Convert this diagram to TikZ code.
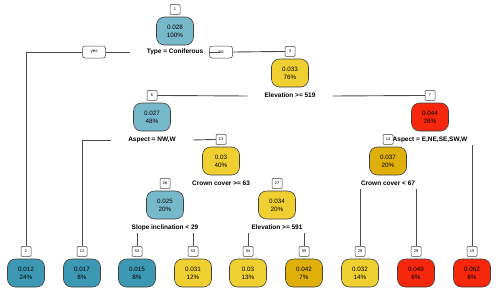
\documentclass[tikz,border=0pt]{standalone}
\usepackage{fontspec}
\setmainfont{Liberation Sans}
\usetikzlibrary{positioning}
\definecolor{treeSky}{HTML}{78B8CB}
\definecolor{treeTeal}{HTML}{3C98B3}
\definecolor{treeSun}{HTML}{F0CF30}
\definecolor{treeGold}{HTML}{E0B00A}
\definecolor{treeRed}{HTML}{F5280E}
\definecolor{edgeGray}{HTML}{404040}
\definecolor{lineGray}{HTML}{4A4A4A}
\tikzset{
  treeNode/.style={draw=edgeGray, line width=0.6pt, rounded corners=8pt, minimum width=37pt, minimum height=28pt, inner sep=0pt, align=center, font=\fontsize{6.3}{8}\selectfont},
  nodeSky/.style={treeNode, fill=treeSky},
  nodeTeal/.style={treeNode, fill=treeTeal},
  nodeSun/.style={treeNode, fill=treeSun},
  nodeGold/.style={treeNode, fill=treeGold},
  nodeRed/.style={treeNode, fill=treeRed},
  numBox/.style={draw=edgeGray, line width=0.5pt, fill=white, rounded corners=1pt, minimum width=10pt, minimum height=10pt, inner sep=0pt, font=\fontsize{4}{4}\selectfont},
  sideBox/.style={draw=edgeGray, line width=0.5pt, fill=white, rounded corners=2.5pt, minimum width=23pt, minimum height=12pt, inner sep=0pt, font=\fontsize{4.5}{5}\selectfont},
  splitLabel/.style={inner xsep=17pt, inner ysep=2pt, text height=5pt, text depth=1.5pt, font=\bfseries\fontsize{6.5}{8}\selectfont},
  branch/.style={draw=lineGray, line width=0.9pt}
}

\begin{document}
\begin{tikzpicture}[x=1pt, y=-1pt]
  \useasboundingbox (0,0) rectangle (500,298);
  % split nodes
  \node[nodeSky] (n1) at (175,31) {0.028\\100\%};
  \node[numBox, above=2pt of n1] (b1) {1};
  \node[splitLabel] (s1) at (175,52) {Type = Coniferous};
  \node[nodeSun] (n3) at (290,73) {0.033\\76\%};
  \node[numBox, above=2pt of n3] (b3) {3};
  \node[splitLabel] (s3) at (290,96) {Elevation >= 519};
  \node[nodeSky] (n6) at (152,117) {0.027\\48\%};
  \node[numBox, above=2pt of n6] (b6) {6};
  \node[splitLabel] (s6) at (152,140) {Aspect = NW,W};
  \node[nodeRed] (n7) at (430,117) {0.044\\28\%};
  \node[numBox, above=2pt of n7] (b7) {7};
  \node[splitLabel] (s7) at (430,140) {Aspect = E,NE,SE,SW,W};
  \node[nodeSun] (n13) at (221,161) {0.03\\40\%};
  \node[numBox, above=2pt of n13] (b13) {13};
  \node[splitLabel] (s13) at (221,184) {Crown cover >= 63};
  \node[nodeGold] (n14) at (388,161) {0.037\\20\%};
  \node[numBox, above=2pt of n14] (b14) {14};
  \node[splitLabel] (s14) at (388,184) {Crown cover < 67};
  \node[nodeSky] (n26) at (165,205) {0.025\\20\%};
  \node[numBox, above=2pt of n26] (b26) {26};
  \node[splitLabel] (s26) at (165,228) {Slope inclination < 29};
  \node[nodeSun] (n27) at (277,205) {0.034\\20\%};
  \node[numBox, above=2pt of n27] (b27) {27};
  \node[splitLabel] (s27) at (277,228) {Elevation >= 591};
  % leaves
  \node[nodeTeal] (n2) at (26,273) {0.012\\24\%};
  \node[numBox, above=2pt of n2] (b2) {2};
  \node[nodeTeal] (n12) at (82,273) {0.017\\8\%};
  \node[numBox, above=2pt of n12] (b12) {12};
  \node[nodeTeal] (n52) at (137,273) {0.015\\8\%};
  \node[numBox, above=2pt of n52] (b52) {52};
  \node[nodeSun] (n53) at (193,273) {0.031\\12\%};
  \node[numBox, above=2pt of n53] (b53) {53};
  \node[nodeSun] (n54) at (248,273) {0.03\\13\%};
  \node[numBox, above=2pt of n54] (b54) {54};
  \node[nodeGold] (n55) at (304,273) {0.042\\7\%};
  \node[numBox, above=2pt of n55] (b55) {55};
  \node[nodeSun] (n28) at (360,273) {0.032\\14\%};
  \node[numBox, above=2pt of n28] (b28) {28};
  \node[nodeRed] (n29) at (416,273) {0.049\\6\%};
  \node[numBox, above=2pt of n29] (b29) {29};
  \node[nodeRed] (n15) at (472,273) {0.062\\8\%};
  \node[numBox, above=2pt of n15] (b15) {15};
  % yes / no
  \node[sideBox] (yes) at (94,52) {yes};
  \node[sideBox] (no) at (221,52) {no};
  % branches
  \draw[branch] (s1.west) -- (yes.east);
  \draw[branch] (yes.west) -| (b2.north);
  \draw[branch] (s1.east) -- (no.west);
  \draw[branch] (no.east) -- (b3.west);
  \draw[branch] (s3.west) -- (b6.east);
  \draw[branch] (s3.east) -- (b7.west);
  \draw[branch] (s6.west) -| (b12.north);
  \draw[branch] (s6.east) -- (b13.west);
  \draw[branch] (s7.south -| b15) -- (b15.north);
  \draw[branch] (s14.south -| b28) -- (b28.north);
  \draw[branch] (s14.south -| b29) -- (b29.north);
  \draw[branch] (s26.south -| b52) -- (b52.north);
  \draw[branch] (s26.south -| b53) -- (b53.north);
  \draw[branch] (s27.south -| b54) -- (b54.north);
  \draw[branch] (s27.south -| b55) -- (b55.north);
\end{tikzpicture}
\end{document}
